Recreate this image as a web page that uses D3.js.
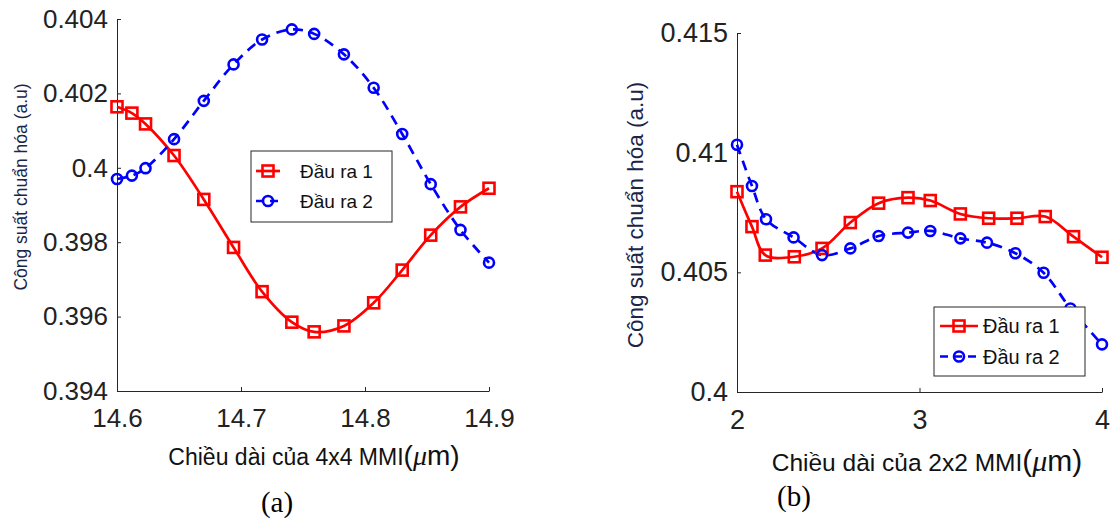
<!DOCTYPE html>
<html>
<head>
<meta charset="utf-8">
<script src="https://cdn.jsdelivr.net/npm/d3@7"></script>
<style>
  html, body { margin: 0; padding: 0; background: #fff; }
  svg { display: block; }
</style>
</head>
<body>
<script>
// ---------- DATA ----------
// Panel (a): 4x4 MMI
const xA = [14.6, 14.612, 14.623, 14.646, 14.67, 14.694, 14.717, 14.741, 14.759, 14.783, 14.807, 14.83, 14.853, 14.877, 14.9];
const redA = [0.40164, 0.40147, 0.40118, 0.40033, 0.39915, 0.39786, 0.39667, 0.39585, 0.39559, 0.39575, 0.39637, 0.39725, 0.39819, 0.39895, 0.39945];
const blueA = [0.39970, 0.39979, 0.39999, 0.40077, 0.40180, 0.40278, 0.40345, 0.40372, 0.40360, 0.40305, 0.40215, 0.40091, 0.39956, 0.39833, 0.39745];
const xTicksA = [14.6, 14.7, 14.8, 14.9];
const yTicksA = [0.394, 0.396, 0.398, 0.4, 0.402, 0.404];
const yTickLabelsA = ["0.394", "0.396", "0.398", "0.4", "0.402", "0.404"];

// Panel (b): 2x2 MMI
const xBred = [2.0, 2.082, 2.155, 2.314, 2.466, 2.621, 2.776, 2.937, 3.059, 3.224, 3.379, 3.534, 3.689, 3.844, 4.0];
const redB = [0.40837, 0.40691, 0.40572, 0.40565, 0.40600, 0.40708, 0.40789, 0.40812, 0.40800, 0.40744, 0.40726, 0.40726, 0.40733, 0.40649, 0.40563];
const xBblue = [2.0, 2.082, 2.159, 2.31, 2.466, 2.621, 2.776, 2.937, 3.059, 3.224, 3.37, 3.525, 3.68, 3.827, 4.0];
const blueB = [0.41033, 0.40861, 0.40722, 0.40646, 0.40572, 0.40600, 0.40652, 0.40666, 0.40673, 0.40642, 0.40624, 0.40580, 0.40498, 0.40349, 0.40199];
const xTicksB = [2, 3, 4];
const yTicksB = [0.4, 0.405, 0.41, 0.415];
const yTickLabelsB = ["0.4", "0.405", "0.41", "0.415"];

const seriesNames = ["Đầu ra 1", "Đầu ra 2"];
const yLabel = "Công suất chuẩn hóa (a.u)";
const xLabelA = "Chiều dài của 4x4 MMI";
const xLabelB = "Chiều dài của 2x2 MMI";
const panelLabels = ["(a)", "(b)"];

// ---------- DRAW ----------
const W = 1116, H = 519;
const svg = d3.select("body").append("svg").attr("width", W).attr("height", H);

const AX = "#262626";
const RED = "#ff0000", BLUE = "#0000ff";
const FONT = "'Liberation Sans', Arial, sans-serif";
const LW = 2.7, MW = 2.6, S = 11, R = 5;

function drawPanel(cfg) {
  const x = d3.scaleLinear().domain(cfg.xDomain).range(cfg.xRange);
  const y = d3.scaleLinear().domain(cfg.yDomain).range(cfg.yRange);
  const g = svg.append("g");

  // axes
  const xAxis = d3.axisBottom(x).tickValues(cfg.xTicks).tickFormat(cfg.xFmt)
    .tickSizeInner(-4).tickSizeOuter(0).tickPadding(18);
  const yAxis = d3.axisLeft(y).tickValues(cfg.yTicks).tickFormat((d, i) => cfg.yLabels[i])
    .tickSizeInner(-4).tickSizeOuter(0).tickPadding(9);

  const gx = g.append("g").attr("transform", `translate(0,${cfg.yRange[0]})`).call(xAxis);
  const gy = g.append("g").attr("transform", `translate(${cfg.xRange[0]},0)`).call(yAxis);
  [gx, gy].forEach(a => {
    a.selectAll("path, line").attr("stroke", AX).attr("stroke-width", 1);
    a.selectAll("text").attr("fill", "#222").style("font-family", FONT).style("font-size", cfg.tickFont + "px");
  });

  // lines
  const line = (xs) => d3.line().x((d, i) => x(xs[i])).y(d => y(d)).curve(d3.curveCatmullRom.alpha(0.5));
  g.append("path").datum(cfg.red).attr("d", line(cfg.xRed))
    .attr("fill", "none").attr("stroke", RED).attr("stroke-width", LW);
  g.append("path").datum(cfg.blue).attr("d", line(cfg.xBlue))
    .attr("fill", "none").attr("stroke", BLUE).attr("stroke-width", LW).attr("stroke-dasharray", "10,7");

  // markers
  g.selectAll(null).data(cfg.red).enter().append("rect")
    .attr("x", (d, i) => x(cfg.xRed[i]) - S / 2).attr("y", d => y(d) - S / 2)
    .attr("width", S).attr("height", S)
    .attr("fill", "none").attr("stroke", RED).attr("stroke-width", MW);
  g.selectAll(null).data(cfg.blue).enter().append("circle")
    .attr("cx", (d, i) => x(cfg.xBlue[i])).attr("cy", d => y(d)).attr("r", R)
    .attr("fill", "none").attr("stroke", BLUE).attr("stroke-width", MW);

  // legend
  const L = cfg.legend;
  const lg = g.append("g");
  lg.append("rect").attr("x", L.x).attr("y", L.y).attr("width", L.w).attr("height", L.h)
    .attr("fill", "#fff").attr("stroke", AX).attr("stroke-width", 1);
  [0, 1].forEach(k => {
    const cy = L.y + L.rows[k];
    const l = lg.append("line").attr("x1", L.lx1).attr("x2", L.lx2).attr("y1", cy).attr("y2", cy)
      .attr("stroke", k ? BLUE : RED).attr("stroke-width", LW);
    if (k) l.attr("stroke-dasharray", "8,6");
    const mx = (L.lx1 + L.lx2) / 2;
    if (k === 0) {
      lg.append("rect").attr("x", mx - S / 2).attr("y", cy - S / 2).attr("width", S).attr("height", S)
        .attr("fill", "none").attr("stroke", RED).attr("stroke-width", MW);
    } else {
      lg.append("circle").attr("cx", mx).attr("cy", cy).attr("r", R)
        .attr("fill", "none").attr("stroke", BLUE).attr("stroke-width", MW);
    }
    lg.append("text").attr("x", L.tx).attr("y", cy).attr("dy", "0.36em")
      .style("font-family", FONT).style("font-size", L.font + "px").attr("fill", "#111")
      .text(seriesNames[k]);
  });

  // y label
  g.append("text")
    .attr("transform", `translate(${cfg.yLab.x},${cfg.yLab.y}) rotate(-90)`)
    .attr("text-anchor", "middle")
    .style("font-family", FONT).style("font-size", cfg.yLab.font + "px").attr("fill", "#1b2548")
    .text(yLabel);

  // x label
  const xt = g.append("text").attr("x", cfg.xLab.x).attr("y", cfg.xLab.y)
    .attr("text-anchor", "middle").style("font-family", FONT).attr("fill", "#111");
  xt.append("tspan").style("font-size", cfg.xLab.font + "px").text(cfg.xLab.text);
  xt.append("tspan").style("font-size", cfg.xLab.font2 + "px").style("font-weight", "300").text("(");
  xt.append("tspan").style("font-size", cfg.xLab.font2 + "px").style("font-style", "italic")
    .style("font-family", "'Liberation Serif', 'Times New Roman', serif").text("μ");
  xt.append("tspan").style("font-size", cfg.xLab.font2 + "px").text("m)");

  // panel label
  g.append("text").attr("x", cfg.pLab.x).attr("y", cfg.pLab.y).attr("text-anchor", "middle")
    .style("font-family", "'Liberation Serif', 'Times New Roman', serif").style("font-size", "29px")
    .attr("fill", "#000").text(cfg.pLab.text);
}

drawPanel({
  xDomain: [14.6, 14.9], xRange: [117, 489],
  yDomain: [0.394, 0.404], yRange: [391, 19],
  xTicks: xTicksA, xFmt: d3.format(".1f"),
  yTicks: yTicksA, yLabels: yTickLabelsA, tickFont: 26,
  xRed: xA, red: redA, xBlue: xA, blue: blueA,
  legend: { x: 251, y: 151, w: 141, h: 71, rows: [20, 50], lx1: 256, lx2: 280, tx: 300, font: 19 },
  yLab: { x: 27, y: 187, font: 17.5 },
  xLab: { x: 314, y: 465, text: xLabelA, font: 23, font2: 28 },
  pLab: { x: 277, y: 512, text: panelLabels[0] }
});

drawPanel({
  xDomain: [2, 4], xRange: [737, 1102],
  yDomain: [0.4, 0.415], yRange: [392, 33],
  xTicks: xTicksB, xFmt: d3.format("d"),
  yTicks: yTicksB, yLabels: yTickLabelsB, tickFont: 27,
  xRed: xBred, red: redB, xBlue: xBblue, blue: blueB,
  legend: { x: 934, y: 307, w: 151, h: 69, rows: [19, 49.5], lx1: 940, lx2: 978, tx: 983, font: 20 },
  yLab: { x: 643, y: 215, font: 22.5 },
  xLab: { x: 927, y: 471, text: xLabelB, font: 24.5, font2: 30 },
  pLab: { x: 794, y: 506, text: panelLabels[1] }
});
</script>
</body>
</html>
